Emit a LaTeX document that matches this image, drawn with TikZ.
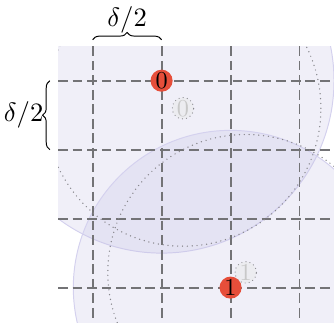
\documentclass[tikz,border=0pt]{standalone}
\usetikzlibrary{decorations.pathreplacing}
\definecolor{regionfill}{RGB}{196,192,228}
\definecolor{regionedge}{RGB}{212,209,238}
\definecolor{gridgray}{RGB}{115,115,118}
\definecolor{dotgray}{RGB}{135,135,140}
\definecolor{nodered}{RGB}{230,78,58}
\definecolor{ghostfill}{RGB}{236,236,240}
\definecolor{ghosttext}{RGB}{200,200,200}
\tikzset{
  gridline/.style={gridgray, line width=0.8pt, dash pattern=on 4pt off 2pt},
  region/.style={fill=regionfill, fill opacity=0.26, draw=regionedge, line width=0.4pt},
  reach/.style={dotgray, line width=0.6pt, line cap=round, dash pattern=on 0pt off 2pt},
  agent/.style={circle, fill=nodered, minimum size=0.32cm, inner sep=0pt},
  ghost/.style={circle, fill=ghostfill, draw=dotgray, line width=0.5pt, line cap=round,
                dash pattern=on 0pt off 1.7pt, minimum size=0.31cm, inner sep=0pt, text=ghosttext},
  bracestyle/.style={decorate, decoration={brace, amplitude=3pt}, line width=0.4pt},
  bracelbl/.style={font=\fontsize{11}{13}\selectfont}
}
\begin{document}
\begin{tikzpicture}
\useasboundingbox (-1.343,-3.5) rectangle (3.5,1.17);
\coordinate (n0c) at (1,0);
\coordinate (n1c) at (2,-3);
\coordinate (g0c) at (1.31,-0.40);
\coordinate (g1c) at (2.22,-2.78);
\begin{scope}
  \clip (-0.5,-3.5) rectangle (3.5,0.5);
  \path[region] (n0c) circle (2.5);
  \path[region] (n1c) circle (2.28);
  \foreach \i in {0,1,2,3} {
    \draw[gridline] (\i,0.5) -- (\i,-3.5);
    \draw[gridline] (-0.5,-\i) -- (3.5,-\i);
  }
  \draw[reach] (g0c) circle (2);
  \draw[reach] (g1c) circle (2);
\end{scope}
\node[ghost] (g0) at (g0c) {0};
\node[ghost] (g1) at (g1c) {1};
\node[agent] (n0) at (n0c) {0};
\node[agent] (n1) at (n1c) {1};
\coordinate (tb1) at (0,0.594);
\coordinate (tb2) at (1,0.594);
\coordinate (lb1) at (-0.62,-1);
\coordinate (lb2) at (-0.62,0);
\draw[bracestyle] (tb1) -- (tb2);
\draw[bracestyle] (lb1) -- (lb2);
\node[bracelbl] (toplabel) at (0.5,0.88) {$\delta/2$};
\node[bracelbl] (leftlabel) at (-1.0,-0.5) {$\delta/2$};
\end{tikzpicture}
\end{document}
